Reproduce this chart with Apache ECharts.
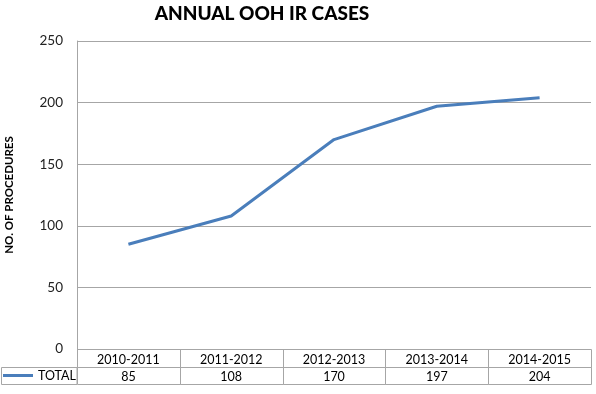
<!DOCTYPE html>
<html>
<head>
<meta charset="utf-8">
<script src="https://cdn.jsdelivr.net/npm/echarts@6/dist/echarts.min.js"></script>
<style>
  html, body { margin: 0; padding: 0; background: #fff; }
  #chart { width: 596px; height: 394px; }
</style>
</head>
<body>
<div id="chart"></div>
<script>
// data
const years = ['2010-2011', '2011-2012', '2012-2013', '2013-2014', '2014-2015'];
const totals = [85, 108, 170, 197, 204];
const yTicks = [0, 50, 100, 150, 200, 250];
const seriesName = 'TOTAL';

const lineColor = '#4A7EBB';
const borderColor = '#a6a6a6';
const font = 'Lato, "Open Sans", sans-serif';

const chart = echarts.init(document.getElementById('chart'));

const option = {
  animation: false,
  backgroundColor: '#fff',
  title: {
    text: 'ANNUAL OOH IR CASES',
    left: 257,
    textAlign: 'center',
    top: -1,
    textStyle: { fontFamily: font, fontWeight: 900, fontSize: 19, color: '#000' }
  },
  legend: {
    data: [seriesName],
    left: 3,
    top: 369,
    padding: 0,
    itemWidth: 30,
    itemHeight: 3,
    icon: 'rect',
    textStyle: { fontFamily: font, fontSize: 12.5, color: '#000' }
  },
  grid: [
    { left: 77, right: 5, top: 41, bottom: 45, containLabel: false, outerBoundsMode: 'none' },
    { left: 77, right: 5, top: 349, bottom: 10, containLabel: false, outerBoundsMode: 'none' }
  ],
  xAxis: [
    {
      type: 'category',
      gridIndex: 0,
      data: years,
      boundaryGap: true,
      axisLine: { show: false },
      axisTick: { show: false },
      axisLabel: { show: false }
    },
    {
      type: 'category',
      gridIndex: 1,
      data: years,
      boundaryGap: true,
      axisLine: { show: false },
      axisTick: { show: false },
      axisLabel: { show: false }
    }
  ],
  yAxis: [
    {
      type: 'value',
      gridIndex: 0,
      min: yTicks[0],
      max: yTicks[yTicks.length - 1],
      interval: 50,
      name: 'NO. OF PROCEDURES',
      nameLocation: 'middle',
      nameRotate: 90,
      nameGap: 62,
      nameTextStyle: { fontFamily: font, fontWeight: 'bold', fontSize: 11.5, color: '#000' },
      axisLine: { show: true, lineStyle: { color: borderColor, width: 1 } },
      axisTick: { show: false },
      axisLabel: { fontFamily: font, fontSize: 13.5, color: '#222', margin: 14 },
      splitLine: { show: true, lineStyle: { color: borderColor, width: 1 } }
    },
    {
      type: 'value',
      gridIndex: 1,
      min: 0,
      max: 2,
      show: false
    }
  ],
  graphic: [
    {
      type: 'rect',
      shape: { x: 1.5, y: 367.5, width: 75.5, height: 17 },
      style: { fill: 'none', stroke: borderColor, lineWidth: 1 },
      z: 10
    }
  ],
  series: [
    {
      name: seriesName,
      type: 'line',
      xAxisIndex: 0,
      yAxisIndex: 0,
      data: totals,
      symbol: 'none',
      lineStyle: { color: lineColor, width: 3 },
      itemStyle: { color: lineColor }
    },
    {
      // data table under the plot
      type: 'custom',
      xAxisIndex: 1,
      yAxisIndex: 1,
      data: totals.map((v, i) => [i, v]),
      renderItem: function (params, api) {
        const idx = api.value(0);
        const top = api.coord([idx, 2]);
        const mid = api.coord([idx, 1]);
        const bot = api.coord([idx, 0]);
        const w = api.size([1, 0])[0];
        const x0 = Math.round(top[0] - w / 2) + 0.5;
        const x1 = Math.round(top[0] + w / 2) + 0.5;
        const y0 = Math.round(top[1]) + 0.5;
        const y1 = Math.round(mid[1]) + 0.5;
        const y2 = Math.round(bot[1]) + 0.5;
        const cellStyle = { fill: 'none', stroke: borderColor, lineWidth: 1 };
        const textStyle = (t, y) => ({
          text: t, x: top[0], y: y,
          fill: '#000', font: '12.5px ' + font,
          align: 'center', verticalAlign: 'middle'
        });
        return {
          type: 'group',
          children: [
            { type: 'rect', shape: { x: x0, y: y0, width: x1 - x0, height: y1 - y0 }, style: cellStyle },
            { type: 'rect', shape: { x: x0, y: y1, width: x1 - x0, height: y2 - y1 }, style: cellStyle },
            { type: 'text', style: textStyle(years[idx], (y0 + y1) / 2 + 1) },
            { type: 'text', style: textStyle(String(api.value(1)), (y1 + y2) / 2 + 1) }
          ]
        };
      }
    }
  ]
};

chart.setOption(option);
window.addEventListener('resize', chart.resize);
</script>
</body>
</html>
